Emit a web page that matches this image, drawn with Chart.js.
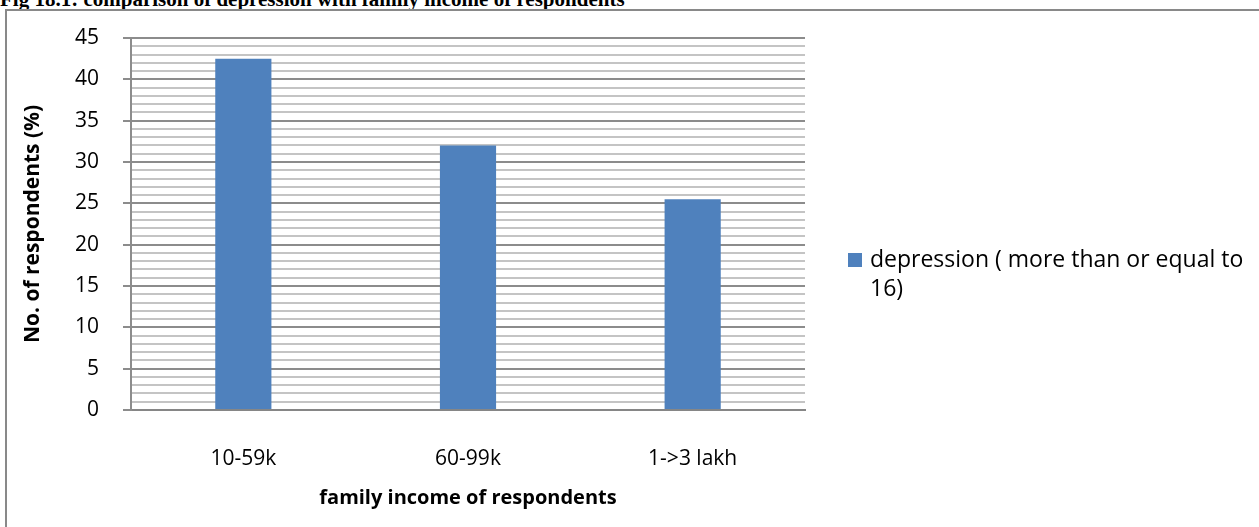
<!DOCTYPE html>
<html>
<head>
<meta charset="utf-8">
<script src="https://cdn.jsdelivr.net/npm/chart.js@4"></script>
<style>
    body { margin: 0; background: #fff; overflow: hidden; }
    #figTitle {
        position: absolute; left: 0; top: -11px;
        font: bold 21px "Liberation Serif", "Times New Roman", serif;
        line-height: 21px; white-space: nowrap; color: #000;
    }
    #frame {
        position: absolute; left: 5px; top: 9px; width: 1400px; height: 600px;
        border-left: 2px solid #898989; border-top: 2px solid #898989;
    }
    #wrap { position: absolute; left: 0; top: 0; width: 1259px; height: 527px; }
</style>
</head>
<body>
<div id="figTitle">Fig 18.1: comparison of depression with family income of respondents</div>
<div id="frame"></div>
<div id="wrap"><canvas id="incomeChart"></canvas></div>
<script>
const categories = ['10-59k', '60-99k', '1->3 lakh'];
const depressionValues = [42.5, 32, 25.5];
const seriesLabel = 'depression ( more than or equal to 16)';
const yMax = 45;
const yMajorStep = 5;

const FONT = '"Open Sans", sans-serif';
const BAR_BLUE = '#4f81bd';

// legend drawn at the right with word wrap, like the office chart
const wrappedLegend = {
    id: 'wrappedLegend',
    afterDraw(chart) {
        const ctx = chart.ctx;
        const ds = chart.data.datasets[0];
        const x = 848, y = 253, maxWidth = 385, lineHeight = 29;
        ctx.save();
        ctx.fillStyle = ds.backgroundColor;
        ctx.fillRect(x, y, 14, 14);
        ctx.font = '23px ' + FONT;
        ctx.fillStyle = '#000';
        ctx.textBaseline = 'middle';
        const words = ds.label.split(' ');
        const lines = [];
        let line = '';
        words.forEach(w => {
            const test = line ? line + ' ' + w : w;
            if (ctx.measureText(test).width > maxWidth && line) {
                lines.push(line);
                line = w;
            } else {
                line = test;
            }
        });
        lines.push(line);
        lines.forEach((l, i) => ctx.fillText(l, x + 22, y + 7 + i * lineHeight));
        ctx.restore();
    }
};

const ctx = document.getElementById('incomeChart').getContext('2d');
new Chart(ctx, {
    type: 'bar',
    data: {
        labels: categories,
        datasets: [{
            label: seriesLabel,
            data: depressionValues,
            backgroundColor: BAR_BLUE,
            categoryPercentage: 1,
            barPercentage: 0.25
        }]
    },
    options: {
        responsive: true,
        maintainAspectRatio: false,
        animation: false,
        layout: { padding: { top: 38, right: 454, left: 0, bottom: 0 } },
        plugins: {
            legend: { display: false },
            tooltip: { enabled: false }
        },
        scales: {
            x: {
                afterFit(scale) { scale.height = 117; },
                grid: { display: false, drawTicks: false },
                border: { display: true, color: '#868686', width: 2 },
                ticks: { color: '#000', padding: 36, font: { family: FONT, size: 21 } },
                title: {
                    display: true,
                    text: 'family income of respondents',
                    color: '#000',
                    padding: { top: 0, bottom: 17 },
                    font: { family: FONT, size: 20, weight: 'bold' }
                }
            },
            y: {
                min: 0,
                max: yMax,
                afterFit(scale) { scale.width = 131; },
                grid: {
                    color: c => c.tick.value % yMajorStep === 0 ? '#8c8c8c' : '#c4c4c4',
                    tickColor: c => c.tick.value % yMajorStep === 0 ? '#8c8c8c' : 'rgba(0,0,0,0)',
                    lineWidth: 2,
                    tickLength: 8
                },
                border: { display: true, color: '#8c8c8c', width: 2 },
                ticks: {
                    stepSize: 1,
                    autoSkip: false,
                    padding: 24,
                    color: '#000',
                    font: { family: FONT, size: 21 },
                    callback: v => v % yMajorStep === 0 ? v : ''
                },
                title: {
                    display: true,
                    text: 'No. of respondents (%)',
                    color: '#000',
                    padding: { top: 20, bottom: 0 },
                    font: { family: FONT, size: 21, weight: 'bold' }
                }
            }
        }
    },
    plugins: [wrappedLegend]
});
</script>
</body>
</html>
